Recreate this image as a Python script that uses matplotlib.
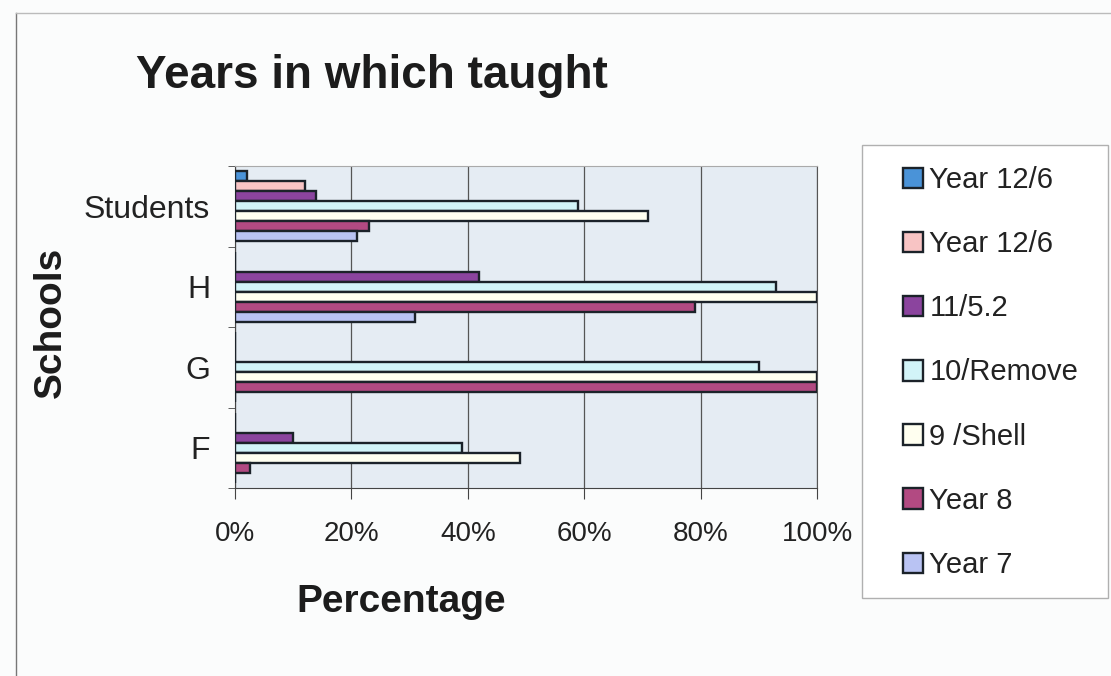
#Horizontal grouped bar chart of the years in which each school teaches

import matplotlib.pyplot as plt
from matplotlib.patches import Rectangle
from matplotlib.lines import Line2D
import numpy as np

#Schools down the y axis, listed bottom to top
schools = ["F", "G", "H", "Students"]

#Percentage for each series, one value per school (same order as schools)
series_names = ["Year 12/6", "Year 12/6", "11/5.2", "10/Remove", "9 /Shell", "Year 8", "Year 7"]
year12_a = [0, 0, 0, 2]
year12_b = [0, 0, 0, 12]
year11 = [10, 0, 42, 14]
year10 = [39, 90, 93, 59]
year9 = [49, 100, 100, 71]
year8 = [2.5, 100, 79, 23]
year7 = [0, 0, 31, 21]

x_ticks = [0, 20, 40, 60, 80, 100]

#Fill colours for the series in the same order as series_names
colours = ["#4a93d8", "#f8c4c4", "#8b449e", "#d2f4f8", "#fffff0", "#b24a82", "#b9c3f3"]

plt.rcParams['font.family'] = ['Liberation Sans', 'DejaVu Sans']

fig = plt.figure(figsize=(11.11, 6.76), dpi=100, facecolor="#fbfcfc")
ax = fig.add_axes([235/1111, 1-488/676, (817-235)/1111, (488-166)/676])
ax.set_facecolor("#e5ecf3")

#Each school gets a block of 7 bars, first series at the top of the block
all_series = [year12_a, year12_b, year11, year10, year9, year8, year7]
bar_h = 0.125
y = np.arange(len(schools))
for i in range(len(all_series)):
    ax.barh(y + (3 - i) * bar_h, all_series[i], height=bar_h, color=colours[i],
            edgecolor="#1b2229", linewidth=1.7, label=series_names[i], zorder=3)

#Axis limits and ticks
ax.set_xlim(0, 100)
ax.set_ylim(-0.5, 3.5)
ax.set_xticks(x_ticks)
ax.set_xticklabels([str(v) + "%" for v in x_ticks])
ax.set_yticks(y)
ax.set_yticklabels(schools)
ax.set_yticks(np.arange(-0.5, 4, 1), minor=True)
ax.tick_params(axis="y", which="major", length=0, pad=18, labelsize=23, labelcolor="#222222")
ax.tick_params(axis="y", which="minor", length=5, direction="out", color="#444444")
ax.tick_params(axis="x", length=8, direction="out", pad=16, labelsize=20, labelcolor="#222222", color="#444444")

#Vertical gridlines behind the bars
ax.grid(axis="x", color="#555555", linewidth=0.9, zorder=1)
ax.set_axisbelow(True)
ax.spines["left"].set_color("#444444")
ax.spines["bottom"].set_color("#444444")
ax.spines["right"].set_color("#555555")
ax.spines["top"].set_color("#aaaaaa")

#Title and axis titles
fig.text(372/1111, 1-88/676, "Years in which taught", ha="center", va="baseline",
         fontsize=33, fontweight="bold", color="#1c1c1c")
fig.text(401/1111, 1-612/676, "Percentage", ha="center", va="baseline",
         fontsize=28, fontweight="bold", color="#1c1c1c")
fig.text(51/1111, 1-322/676, "Schools", ha="center", va="center", rotation=90,
         fontsize=28, fontweight="bold", color="#1c1c1c")

#Outer frame of the chart area
fig.add_artist(Line2D([16/1111, 16/1111], [0, 1-13/676], color="#777777", linewidth=1))
fig.add_artist(Line2D([16/1111, 1], [1-13/676, 1-13/676], color="#bbbbbb", linewidth=1))

#Legend box drawn separately so the padding can be set by hand
fig.add_artist(Rectangle((862/1111, 1-598/676), (1108-862)/1111, (598-145)/676,
                         transform=fig.transFigure, facecolor="white", edgecolor="#b0b0b0",
                         linewidth=1, zorder=1))
handles, labels = ax.get_legend_handles_labels()
fig.legend(handles, labels, loc="upper left", bbox_to_anchor=(903/1111, 1-166/676),
           frameon=False, borderpad=0, borderaxespad=0, handlelength=0.7, handleheight=0.7,
           handletextpad=0.2, labelspacing=1.24, fontsize=21, labelcolor="#222222")

fig.savefig("out.png", dpi=100, facecolor=fig.get_facecolor())
